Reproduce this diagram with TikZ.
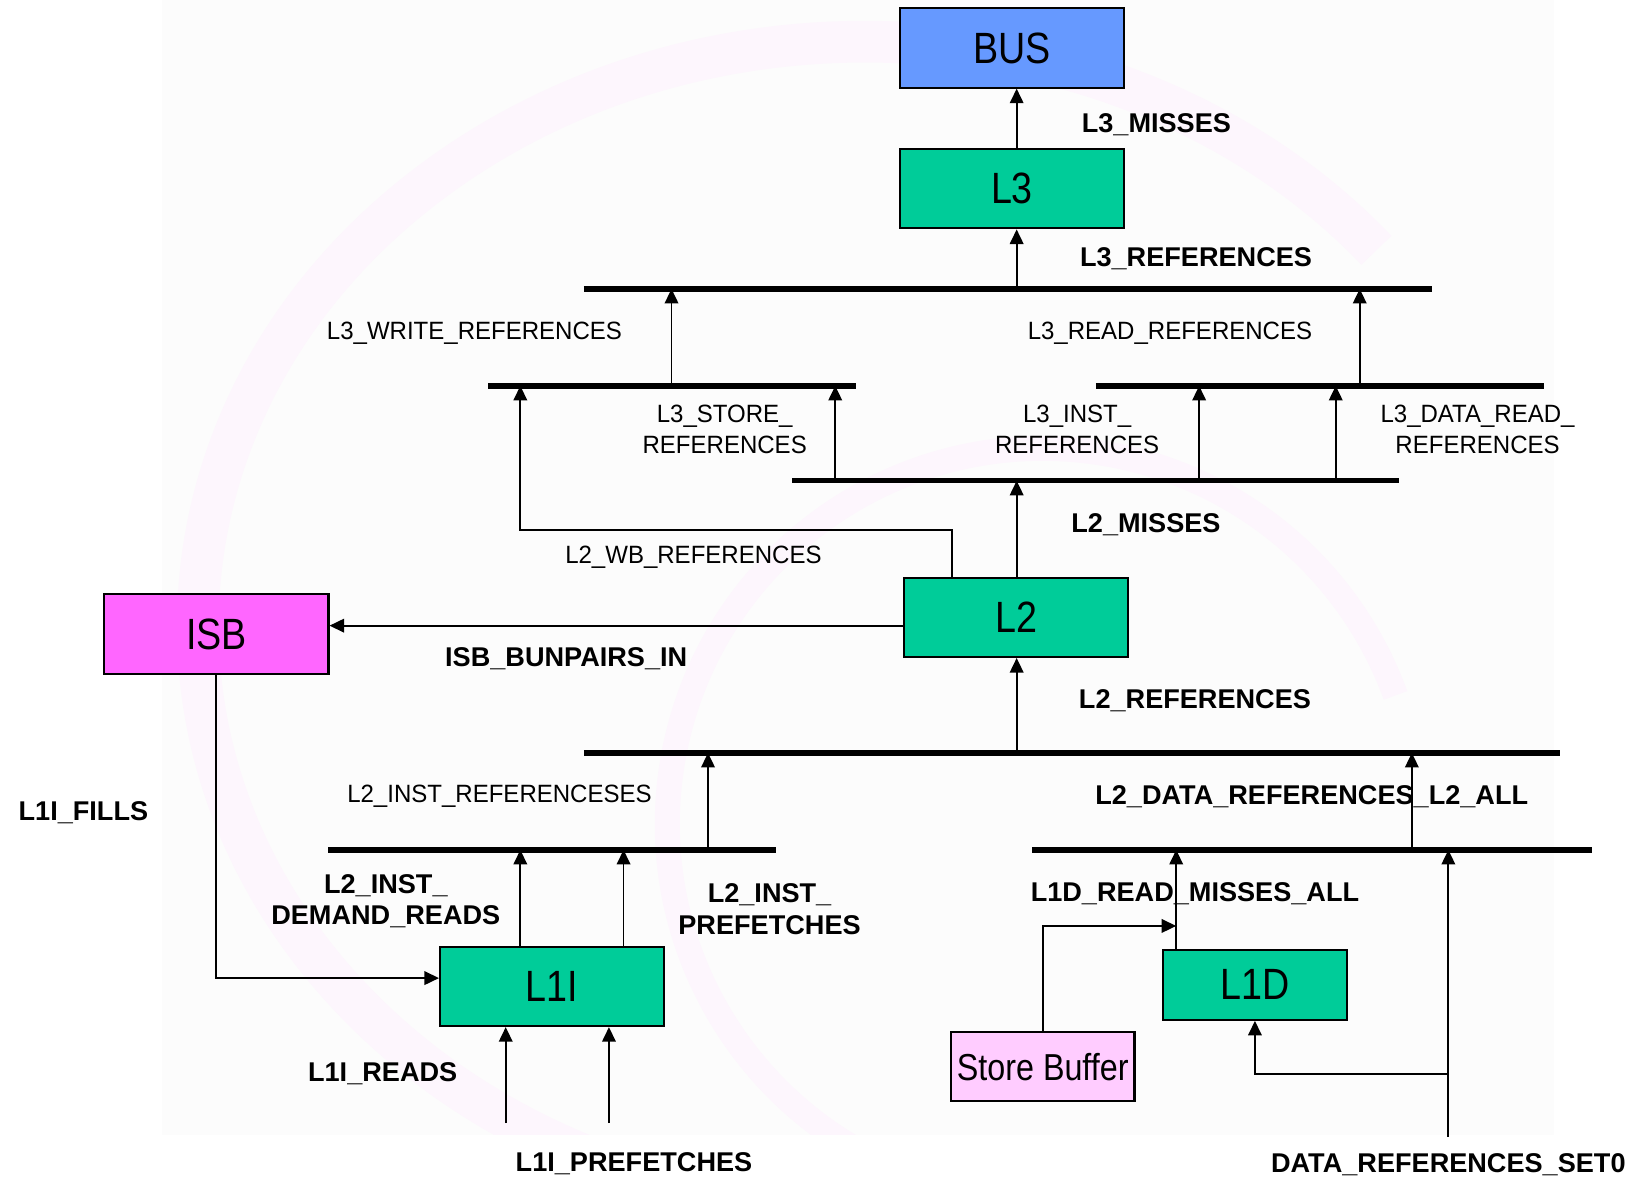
\documentclass[tikz,border=0pt]{standalone}
\usepackage{fontspec}
\setmainfont{Liberation Sans}
\newfontfamily\labfont[FakeStretch=0.96]{Liberation Sans}
\newfontfamily\boxfont[FakeStretch=0.86]{Liberation Sans}
\usetikzlibrary{arrows.meta,calc}

\definecolor{busblue}{RGB}{102,153,255}
\definecolor{cachegreen}{RGB}{0,204,153}
\definecolor{isbpink}{RGB}{255,102,255}
\definecolor{sbpink}{RGB}{255,204,255}
\definecolor{paper}{RGB}{252,252,252}
\definecolor{swirl}{RGB}{253,246,253}

\begin{document}
\begin{tikzpicture}[x=0.5pt,y=-0.5pt,
  unit/.style={draw=black, line width=1pt, minimum width=107.5pt, minimum height=38pt,
    inner sep=0pt, font=\boxfont\fontsize{21}{25}\selectfont},
  lbl/.style={font=\labfont\fontsize{12}{15}\selectfont, inner sep=0pt, align=center},
  blbl/.style={font=\bfseries\fontsize{13}{15}\selectfont, inner sep=0pt, align=center},
  busline/.style={line width=2.6pt},
  conn/.style={line width=0.9pt},
  arr/.style={conn, -{Triangle[length=7pt,width=6.5pt]}}]

% canvas and faint backdrop
\useasboundingbox (0,0) rectangle (1568,1131);
\fill[white] (0,0) rectangle (1568,1131);
\fill[paper] (155,0) rectangle (1490,1088);
\begin{scope}
  \clip (155,0) rectangle (1490,1088);
  \draw[swirl, line width=20pt] (1320,240) arc[start angle=-40, end angle=-250, x radius=640, y radius=560];
  \draw[swirl, line width=12pt] (1000,790) ++(100:360) arc[start angle=100, end angle=340, radius=360];
\end{scope}

% units
\node[unit, fill=busblue] (BUS) at (970.5,46) {BUS};
\node[unit, fill=cachegreen] (L3) at (970.5,181) {L3};
\node[unit, fill=cachegreen] (L2) at (974.5,592) {L2};
\node[unit, fill=isbpink] (ISB) at (207.5,608) {ISB};
\node[unit, fill=cachegreen] (L1I) at (529.5,946) {L1I};
\node[unit, fill=cachegreen, minimum width=88.5pt, minimum height=33.5pt] (L1D) at (1203.5,944.5) {L1D};
\node[unit, fill=sbpink, minimum width=88pt, minimum height=33pt,
  font=\boxfont\fontsize{18}{22}\selectfont] (SB) at (1000,1023) {Store Buffer};

% merge bars
\coordinate (b1w) at (560,277);  \coordinate (b1e) at (1373,277);
\coordinate (b2aw) at (468,370); \coordinate (b2ae) at (821,370);
\coordinate (b2bw) at (1051,370);\coordinate (b2be) at (1481,370);
\coordinate (b3w) at (760,461);  \coordinate (b3e) at (1342,461);
\coordinate (b4w) at (560,722);  \coordinate (b4e) at (1496,722);
\coordinate (b5aw) at (315,815); \coordinate (b5ae) at (744,815);
\coordinate (b5bw) at (990,815); \coordinate (b5be) at (1527,815);
\foreach \w/\e in {b1w/b1e,b2aw/b2ae,b2bw/b2be,b3w/b3e,b4w/b4e,b5aw/b5ae,b5bw/b5be}
  \draw[busline] (\w) -- (\e);

% column and row guides
\foreach \x in {207,485,499,584,598,644,679,801,913,975,1000,1128,1150,1205,1281,1304,1354,1389}
  \coordinate (x\x) at (\x,0);
\foreach \y in {508,600,888,938,1030,1077,1090}
  \coordinate (y\y) at (0,\y);

% connectors
\draw[arr] (L3.north -| x975) -- (BUS.south -| x975);
\draw[arr] (x975 |- b1w) -- (L3.south -| x975);
\draw[arr] (x644 |- b2aw) -- (x644 |- b1w);
\draw[arr] (x1304 |- b2bw) -- (x1304 |- b1w);
\draw[arr] (x801 |- b3w) -- (x801 |- b2aw);
\draw[arr] (x1150 |- b3w) -- (x1150 |- b2bw);
\draw[arr] (x1281 |- b3w) -- (x1281 |- b2bw);
\draw[arr] (L2.north -| x975) -- (x975 |- b3w);
\draw[arr] (L2.north -| x913) -- (x913 |- y508) -- (x499 |- y508) -- (x499 |- b2aw);
\draw[arr] (L2.west |- y600) -- (ISB.east |- y600);
\draw[arr] (x975 |- b4w) -- (L2.south -| x975);
\draw[arr] (x679 |- b5aw) -- (x679 |- b4w);
\draw[arr] (x1354 |- b5bw) -- (x1354 |- b4w);
\draw[arr] (L1I.north -| x499) -- (x499 |- b5aw);
\draw[arr] (L1I.north -| x598) -- (x598 |- b5aw);
\draw[arr] (ISB.south) |- (L1I.west |- y938);
\draw[arr] (x485 |- y1077) -- (L1I.south -| x485);
\draw[arr] (x584 |- y1077) -- (L1I.south -| x584);
\draw[arr] (L1D.north -| x1128) -- (x1128 |- b5bw);
\draw[arr] (SB.north) |- (x1128 |- y888);
\draw[arr] (x1389 |- y1090) -- (x1389 |- b5bw);
\draw[arr] (x1389 |- y1030) -| (L1D.south);

% event labels
\node[blbl] (tL3M) at (1109,120) {L3\_MISSES};
\node[blbl] (tL3R) at (1147,248) {L3\_REFERENCES};
\node[lbl] (tL3W) at (455,320) {L3\_WRITE\_REFERENCES};
\node[lbl] (tL3RR) at (1122,320) {L3\_READ\_REFERENCES};
\node[lbl] (tL3S) at (695,412) {L3\_STORE\_\\REFERENCES};
\node[lbl] (tL3I) at (1033,412) {L3\_INST\_\\REFERENCES};
\node[lbl] (tL3D) at (1417,412) {L3\_DATA\_READ\_\\REFERENCES};
\node[blbl] (tL2M) at (1099,503) {L2\_MISSES};
\node[lbl] (tL2WB) at (665,534) {L2\_WB\_REFERENCES};
\node[blbl] (tISB) at (543,632) {ISB\_BUNPAIRS\_IN};
\node[blbl] (tL2R) at (1146,672) {L2\_REFERENCES};
\node[lbl] (tL2I) at (479,764) {L2\_INST\_REFERENCESES};
\node[blbl] (tL2D) at (1258,764) {L2\_DATA\_REFERENCES\_L2\_ALL};
\node[blbl] (tFill) at (80,779) {L1I\_FILLS};
\node[blbl] (tDem) at (370,864) {L2\_INST\_\\DEMAND\_READS};
\node[blbl] (tPre) at (738,872) {L2\_INST\_\\PREFETCHES};
\node[blbl] (tL1DM) at (1146,857) {L1D\_READ\_MISSES\_ALL};
\node[blbl] (tRd) at (367,1030) {L1I\_READS};
\node[blbl] (tPf) at (608,1116) {L1I\_PREFETCHES};
\node[blbl] (tSet) at (1389,1117) {DATA\_REFERENCES\_SET0};
\end{tikzpicture}
\end{document}
